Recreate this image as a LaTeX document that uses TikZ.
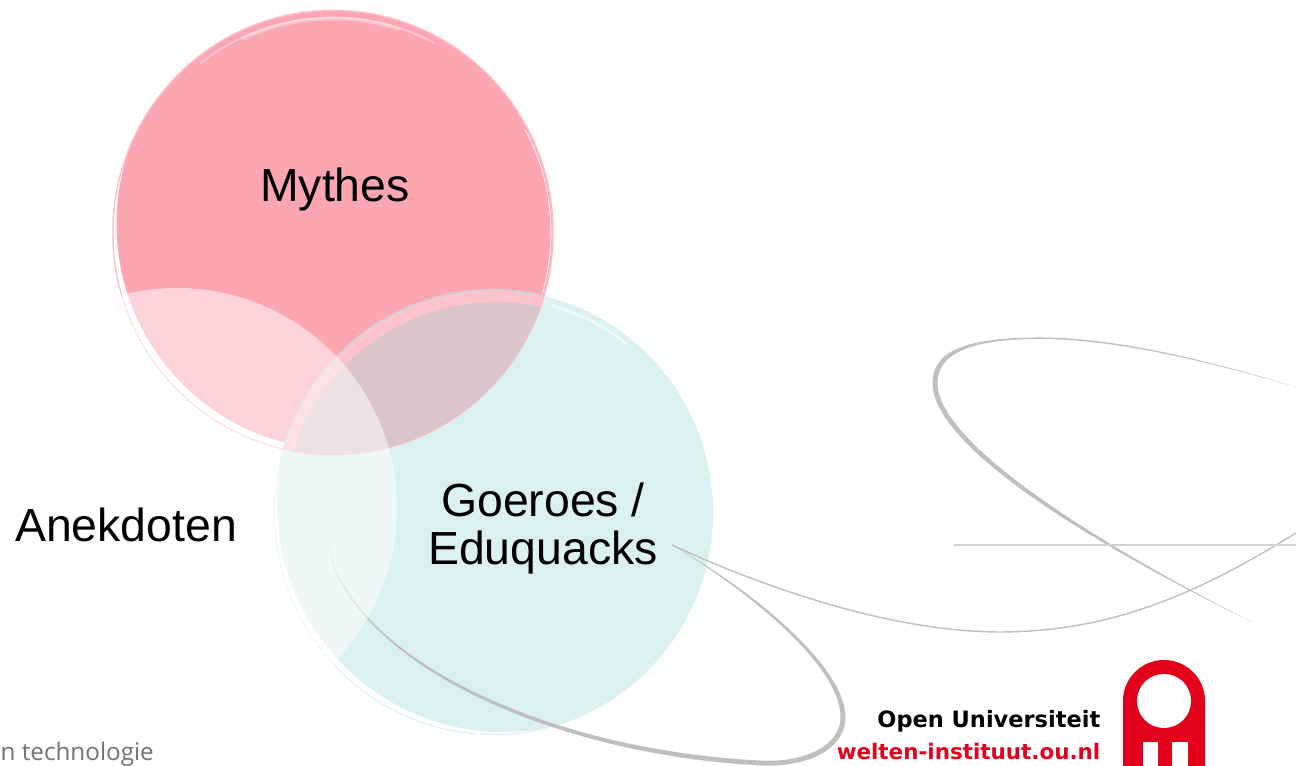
\documentclass[tikz,border=0pt]{standalone}
\usepackage{fontspec}
\setmainfont{Liberation Sans}
\newfontfamily\logofont{DejaVu Sans}
\newfontfamily\footerfont{Open Sans}
\definecolor{mythesred}{HTML}{FBA6B1}
\definecolor{mythesrim}{HTML}{FBBCC6}
\definecolor{goeroesteal}{HTML}{DBF1EF}
\definecolor{goeroesrim}{HTML}{D5F0ED}
\definecolor{overlapmauve}{HTML}{DAC6CA}
\definecolor{overlaprim}{HTML}{FDC3CC}
\definecolor{swooshgray}{HTML}{BFBFBF}
\definecolor{ouredcolor}{HTML}{E2001A}
\tikzset{
  bigtext/.style={font=\fontsize{13.2}{13.9}\selectfont,align=center,inner sep=0},
  logotext/.style={anchor=base east,inner sep=0},
  swoosh/.style={fill=swooshgray},
  swooshline/.style={draw=swooshgray,line width=0.4pt},
  highlight/.style={draw=white,line width=0.5pt,opacity=0.35,line cap=round},
}
\newcommand{\mythescircle}{(3.33,5.335) circle [x radius=2.205,y radius=2.225]}
\newcommand{\goeroescircle}{(4.935,2.535) circle [x radius=2.195,y radius=2.225]}
\begin{document}
\begin{tikzpicture}
  % \draw[help lines] (0,0) grid (13,7);
  \useasboundingbox (0,0) rectangle (13.01,7.66);

  \fill [mythesrim] \mythescircle;
  \begin{scope}
    \clip (3.33,5.335) circle [x radius=2.195,y radius=2.215];
    \fill [white] (0,2) rectangle (6,8);
    \fill [mythesred] (3.40,5.42) circle [x radius=2.235,y radius=2.255];
  \end{scope}
  \draw [highlight] (3.33,5.335) ++(62:2.15) arc [start angle=62,end angle=128,radius=2.15];
  \draw [highlight,line width=1pt] (3.33,5.335) ++(72:2.14) arc [start angle=72,end angle=115,radius=2.14];
  \draw [highlight,opacity=0.7,line width=0.3pt] (3.33,5.335) ++(-25:2.18) arc [start angle=-25,end angle=28,radius=2.18];

  \fill [goeroesrim] \goeroescircle;
  \begin{scope}
    \clip (4.935,2.535) circle [x radius=2.185,y radius=2.215];
    \fill [white] (2,0) rectangle (8,5);
    \fill [goeroesteal] (5.03,2.63) circle [x radius=2.26,y radius=2.29];
  \end{scope}
  \begin{scope}
    \clip \mythescircle;
    \fill [overlaprim] \goeroescircle;
    \fill [overlapmauve] (4.97,2.50) circle [radius=2.14];
    \draw [swooshgray!70,line width=0.5pt] \goeroescircle;
  \end{scope}
  \draw [mythesrim,line width=0.3pt,opacity=0.6] \mythescircle;
  \draw [highlight,line width=0.8pt,opacity=0.6] (4.935,2.535) ++(52:2.15) arc [start angle=52,end angle=74,radius=2.15];

  \fill [swoosh] (3.28,2.21) .. controls (3.48,1.09) and (5.4,0.125) .. (7.6,0.005)
    .. controls (8.02,-0.02) and (8.455,0.14) .. (8.455,0.49)
    .. controls (8.45,1.0) and (7.52,1.76) .. (6.72,2.21)
    .. controls (7.5,1.74) and (8.405,1.0) .. (8.405,0.49)
    .. controls (8.405,0.17) and (7.98,0.03) .. (7.6,0.055)
    .. controls (5.42,0.165) and (3.50,1.10) .. (3.28,2.21);
  \draw [swooshline] (6.72,2.21) .. controls (7.6,1.8) and (8.9,1.34) .. (10.0,1.34)
    .. controls (11.2,1.34) and (12.1,1.8) .. (12.96,2.33);
  \fill [swoosh] (12.96,3.79) .. controls (12.0,4.085) and (11.1,4.285) .. (10.4,4.285)
    .. controls (9.68,4.285) and (9.325,4.16) .. (9.325,3.83)
    .. controls (9.325,3.18) and (10.98,2.19) .. (12.52,1.44)
    .. controls (11.0,2.21) and (9.375,3.22) .. (9.375,3.83)
    .. controls (9.375,4.13) and (9.72,4.27) .. (10.4,4.27)
    .. controls (11.1,4.27) and (12.0,4.07) .. (12.96,3.79);
  \draw [swooshgray!70,line width=0.4pt] (9.54,2.21) -- (12.96,2.21);

  % the third circle is white, it only shows where it lies over the others
  \fill [white,opacity=0.5] (1.77,2.58) circle [radius=2.20];

  \node (mythes) [bigtext] at (3.35,5.76) {Mythes};
  \node (goeroes) [bigtext] at (5.43,2.375) {Goeroes /\\Eduquacks};
  \node (anekdoten) [bigtext] at (1.26,2.41) {Anekdoten};

  \fill [ouredcolor] (11.23,0) -- (11.23,0.65) arc [start angle=180,end angle=0,radius=0.41]
    -- (12.05,0) -- cycle;
  \fill [white] (11.64,0.65) circle [radius=0.27];
  \fill [white] (11.43,0) rectangle (11.58,0.24);
  \fill [white] (11.72,0) rectangle (11.88,0.24);

  \node (ou) [logotext,font=\logofont\bfseries\fontsize{6.4}{7}\selectfont]
    at (11.01,0.38) {Open Universiteit};
  \node (welten) [logotext,text=ouredcolor,font=\logofont\bfseries\fontsize{6.1}{7}\selectfont]
    at (11.01,0.06) {welten-instituut.ou.nl};
  \node (footer) [anchor=base west,inner sep=0,text=black!55,font=\footerfont\fontsize{6.9}{7}\selectfont]
    at (0,0.05) {n technologie};
\end{tikzpicture}
\end{document}
